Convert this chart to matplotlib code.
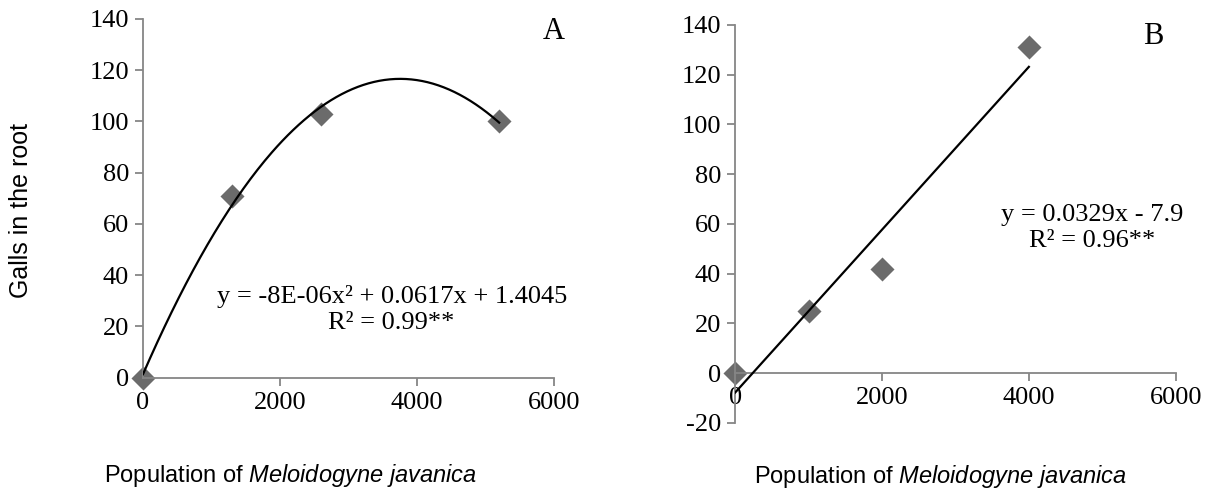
import numpy as np
import matplotlib.pyplot as plt

# Galls in the root vs. inoculated population of M. javanica
pop_a = [0, 1300, 2600, 5200]
galls_a = [0, 71, 103, 100]
pop_b = [0, 1000, 2000, 4000]
galls_b = [0, 25, 42, 131]

eq_a = 'y = -8E-06x² + 0.0617x + 1.4045\nR² = 0.99**'
eq_b = 'y = 0.0329x - 7.9\nR² = 0.96**'

serif = 'Liberation Serif'
sans = 'Liberation Sans'
axis_grey = '#868686'
marker_grey = '#6b6b6b'

plt.rcParams['axes.unicode_minus'] = False
plt.rcParams['mathtext.fontset'] = 'custom'
plt.rcParams['mathtext.rm'] = 'Liberation Sans'
plt.rcParams['mathtext.it'] = 'Liberation Sans:italic'

xlabel = 'Population of $\\it{Meloidogyne\\ javanica}$'

fig = plt.figure(figsize=(12.17, 4.93), dpi=100)
ax_a = fig.add_axes([0.1175, 0.2339, 0.3377, 0.7276])
ax_b = fig.add_axes([0.604, 0.142, 0.3621, 0.8073])


def style_axis(ax, ymin):
    for side in ('top', 'right'):
        ax.spines[side].set_visible(False)
    for side in ('left', 'bottom'):
        ax.spines[side].set_color(axis_grey)
        ax.spines[side].set_linewidth(1.3)
    ax.spines['bottom'].set_position(('data', 0))
    ax.set_xlim(0, 6000)
    ax.set_ylim(ymin, 140)
    ax.set_xticks([0, 2000, 4000, 6000])
    ax.set_yticks(np.arange(ymin, 141, 20))
    ax.tick_params(axis='both', direction='out', length=6, width=1.3,
                   color=axis_grey, labelsize=19, pad=4)
    for lab in ax.get_xticklabels() + ax.get_yticklabels():
        lab.set_fontfamily(serif)
    ax.set_xlabel(xlabel, fontfamily=sans, fontsize=17)


# Panel A: quadratic trend
style_axis(ax_a, 0)
ax_a.scatter(pop_a, galls_a, marker='D', s=150, color=marker_grey, zorder=2,
             clip_on=False, linewidths=0)
coef_a = np.polyfit(pop_a, galls_a, 2)
xs = np.linspace(0, max(pop_a), 200)
ax_a.plot(xs, np.polyval(coef_a, xs), color='black', lw=1.6, zorder=3)
ax_a.text(0.605, 0.19, eq_a, transform=ax_a.transAxes, ha='center',
          va='center', fontfamily=serif, fontsize=19, linespacing=1.2)
ax_a.text(1.0, 0.965, 'A', transform=ax_a.transAxes, ha='center',
          va='center', fontfamily=serif, fontsize=22)
ax_a.xaxis.set_label_coords(0.359, -0.235)
ax_a.set_ylabel('Galls in the root', fontfamily=sans, fontsize=18)
ax_a.yaxis.set_label_coords(-0.268, 0.465)

# Panel B: linear trend
style_axis(ax_b, -20)
ax_b.scatter(pop_b, galls_b, marker='D', s=150, color=marker_grey, zorder=2,
             clip_on=False, linewidths=0)
coef_b = np.polyfit(pop_b, galls_b, 1)
xs = np.linspace(0, max(pop_b), 50)
ax_b.plot(xs, np.polyval(coef_b, xs), color='black', lw=1.6, zorder=3)
ax_b.text(0.81, 0.49, eq_b, transform=ax_b.transAxes, ha='center',
          va='center', fontfamily=serif, fontsize=19, linespacing=1.2)
ax_b.text(0.95, 0.97, 'B', transform=ax_b.transAxes, ha='center',
          va='center', fontfamily=serif, fontsize=22)
ax_b.xaxis.set_label_coords(0.466, -0.1)

fig.savefig('out.png', dpi=100)
